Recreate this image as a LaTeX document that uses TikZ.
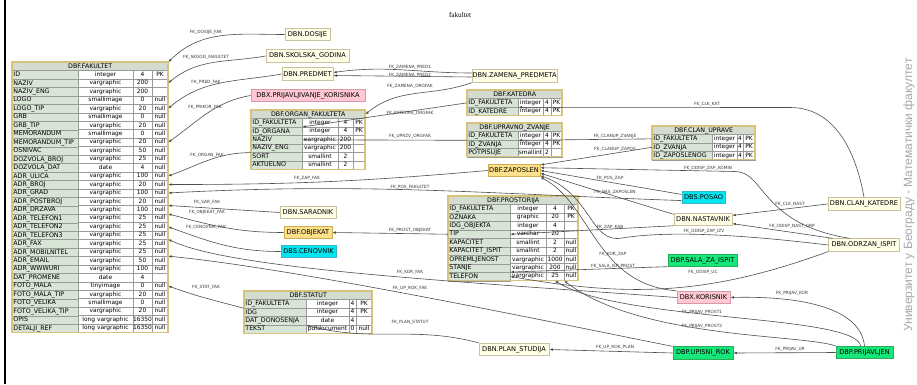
\documentclass[tikz,border=0pt]{standalone}
\usepackage{fontspec}
\setmainfont{DejaVu Sans}
\newfontfamily\titlefont{Liberation Serif}
\newfontfamily\cyrfont{Liberation Sans}
\usepackage{tikz}
\usetikzlibrary{calc,arrows.meta}
\definecolor{wire}{HTML}{4E4E4E}
\definecolor{fktext}{HTML}{3A3A3A}
\definecolor{cream}{HTML}{FFFFE8}
\definecolor{creamedge}{HTML}{C8C39E}
\definecolor{gold}{HTML}{FDE18A}
\definecolor{goldedge}{HTML}{CFAE52}
\definecolor{cyanbox}{HTML}{00E5F0}
\definecolor{cyanedge}{HTML}{33B8C4}
\definecolor{greenbox}{HTML}{14E87A}
\definecolor{greenedge}{HTML}{2DAA5A}
\definecolor{pinkbox}{HTML}{FFC8D2}
\definecolor{pinkedge}{HTML}{D49AA6}
\definecolor{headfill}{HTML}{D3DCCF}
\definecolor{namefill}{HTML}{D8E4D5}
\definecolor{gridline}{HTML}{9A9A9A}
\definecolor{tabframe}{HTML}{D6C47C}
\definecolor{wmark}{HTML}{A8A8A8}
\newcommand{\rowh}{8.45}
\tikzset{
  fk/.style={draw=wire, line width=0.6pt, -{Latex[length=3.4pt,width=2.6pt]}},
  fklab/.style={text=fktext, font=\fontsize{4.3}{5}\selectfont, inner sep=0.4pt},
  ent/.style={draw, line width=0.8pt, inner sep=0pt, minimum height=12.5pt, font=\fontsize{6.6}{7}\selectfont},
  dbn/.style={ent, draw=creamedge, fill=cream},
  dbf/.style={ent, draw=goldedge, fill=gold},
  dbs/.style={ent, draw=cyanedge, fill=cyanbox},
  dbp/.style={ent, draw=greenedge, fill=greenbox},
  dbx/.style={ent, draw=pinkedge, fill=pinkbox},
  thead/.style={draw=gridline, line width=0.4pt, fill=headfill, inner sep=0pt, minimum height=\rowh pt, font=\fontsize{6.3}{7}\selectfont},
  tname/.style={draw=gridline, line width=0.4pt, fill=namefill, inner xsep=1.2pt, inner ysep=0pt, minimum height=\rowh pt, align=left, text height=4.7pt, text depth=1.2pt, font=\fontsize{6.3}{7}\selectfont},
  tcell/.style={draw=gridline, line width=0.4pt, fill=white, inner sep=0pt, minimum height=\rowh pt, text height=4.5pt, text depth=1.2pt, font=\fontsize{5.9}{7}\selectfont},
  tframe/.style={draw=tabframe, line width=1.3pt},
  diagtitle/.style={font=\titlefont\fontsize{7.2}{8}\selectfont},
  wm/.style={text=wmark, font=\cyrfont\fontsize{12}{14}\selectfont},
}
\newcommand{\dbtable}[8]{%
  \pgfmathsetmacro{\tbA}{#3}%
  \pgfmathsetmacro{\tbB}{#3+#4}%
  \pgfmathsetmacro{\tbC}{#3+#4+#5}%
  \pgfmathsetmacro{\tbD}{#3+#4+#5+#6}%
  \pgfmathsetmacro{\tbW}{#3-2.4}%
  \node[thead, minimum width=\tbD pt, anchor=north west] (#1-0) at #2 {#7};
  \foreach \fa/\fb/\fc/\fd [count=\i] in {#8} {
    \coordinate (#1-\i-nw) at ($(#1-0.north west)+(0,{-\i*\rowh})$);
    \node[tname, text width=\tbW pt, anchor=north west] (#1-\i) at (#1-\i-nw) {\fa};
    \node[tcell, minimum width=#4pt] (#1-\i-b) at ($(#1-\i-nw)+({\tbA+#4/2},{-\rowh/2})$) {\fb};
    \node[tcell, minimum width=#5pt] (#1-\i-c) at ($(#1-\i-nw)+({\tbB+#5/2},{-\rowh/2})$) {\fc};
    \node[tcell, minimum width=#6pt] (#1-\i-d) at ($(#1-\i-nw)+({\tbC+#6/2},{-\rowh/2})$) {\fd};
    \xdef\dblast{\i}
  }
  \draw[tframe] (#1-0.north west) rectangle ($(#1-0.north west)+(\tbD,{-(\dblast+1)*\rowh})$);
}

\begin{document}
\begin{tikzpicture}[x=1pt,y=1pt]
  \fill[white] (0,0) rectangle (917,384);
  \useasboundingbox (0,0) rectangle (917,384);
  \draw[line width=1.8pt] (5,0) -- (5,384);
  \node[diagtitle] (title) at (460,369) {fakultet};
  \node[wm, rotate=90] (univ) at (909,189) {Универзитет у Београду - Математички факултет};

  \dbtable{fak}{(12,322)}{66}{55}{19}{16}{DBF.FAKULTET}{
    ID/integer/4/PK, NAZIV/vargraphic/200/~, NAZIV\_ENG/vargraphic/200/~,
    LOGO/smallimage/0/null, LOGO\_TIP/vargraphic/20/null, GRB/smallimage/0/null,
    GRB\_TIP/vargraphic/20/null, MEMORANDUM/smallimage/0/null, MEMORANDUM\_TIP/vargraphic/20/null,
    OSNIVAC/vargraphic/50/null, DOZVOLA\_BROJ/vargraphic/25/null, DOZVOLA\_DAT/date/4/null,
    ADR\_ULICA/vargraphic/100/null, ADR\_BROJ/vargraphic/20/null, ADR\_GRAD/vargraphic/100/null,
    ADR\_POSTBROJ/vargraphic/20/null, ADR\_DRZAVA/vargraphic/100/null, ADR\_TELEFON1/vargraphic/25/null,
    ADR\_TELEFON2/vargraphic/25/null, ADR\_TELEFON3/vargraphic/25/null, ADR\_FAX/vargraphic/25/null,
    ADR\_MOBILNITEL/vargraphic/25/null, ADR\_EMAIL/vargraphic/50/null, ADR\_WWWURI/vargraphic/100/null,
    DAT\_PROMENE/date/4/~, FOTO\_MALA/tinyimage/0/null, FOTO\_MALA\_TIP/vargraphic/20/null,
    FOTO\_VELIKA/smallimage/0/null, FOTO\_VELIKA\_TIP/vargraphic/20/null,
    OPIS/long vargraphic/16350/null, DETALJI\_REF/long vargraphic/16350/null}
  \dbtable{organ}{(251,274)}{51}{36}{15}{12}{DBF.ORGAN\_FAKULTETA}{
    ID\_FAKULTETA/integer/4/PK, ID\_ORGANA/integer/4/PK, NAZIV/vargraphic/200/~,
    NAZIV\_ENG/vargraphic/200/~, SORT/smallint/2/~, AKTUELNO/smallint/2/~}
  \dbtable{katedra}{(467,294)}{51}{25}{8}{11}{DBF.KATEDRA}{
    ID\_FAKULTETA/integer/4/PK, ID\_KATEDRE/integer/4/PK}
  \dbtable{upravno}{(467,261)}{51}{25}{8}{11}{DBF.UPRAVNO\_ZVANJE}{
    ID\_FAKULTETA/integer/4/PK, ID\_ZVANJA/integer/4/PK, POTPISUJE/smallint/2/~}
  \dbtable{clanup}{(652,258)}{60}{25}{6}{12}{DBF.CLAN\_UPRAVE}{
    ID\_FAKULTETA/integer/4/PK, ID\_ZVANJA/integer/4/PK, ID\_ZAPOSLENOG/integer/4/PK}
  \dbtable{prost}{(448,188)}{62}{36}{18}{14}{DBF.PROSTORIJA}{
    ID\_FAKULTETA/integer/4/PK, OZNAKA/graphic/20/PK, IDG\_OBJEKTA/integer/4/~,
    TIP/varchar/20/~, KAPACITET/smallint/2/null, KAPACITET\_ISPIT/smallint/2/null,
    OPREMLJENOST/vargraphic/1000/null, STANJE/vargraphic/200/null, TELEFON/vargraphic/25/null}
  \dbtable{statut}{(244,93)}{62}{43}{7}{16}{DBF.STATUT}{
    ID\_FAKULTETA/integer/4/PK, IDG/integer/4/PK, DAT\_DONOSENJA/date/4/~, TEKST/pdfdocument/0/null}

  \node[dbn, minimum width=45pt] (dosije) at (307.5,349.5) {DBN.DOSIJE};
  \node[dbn, minimum width=83pt] (skgod) at (307.5,328) {DBN.SKOLSKA\_GODINA};
  \node[dbn, minimum width=51pt] (predmet) at (307.5,310) {DBN.PREDMET};
  \node[dbx, minimum width=114pt] (prijkor) at (308,288.5) {DBX.PRIJAVLJIVANJE\_KORISNIKA};
  \node[dbn, minimum width=85pt] (zamena) at (514.5,308) {DBN.ZAMENA\_PREDMETA};
  \node[dbf, minimum width=52pt] (zaposlen) at (514,213.5) {DBF.ZAPOSLEN};
  \node[dbs, minimum width=43pt] (posao) at (703.5,186.5) {DBS.POSAO};
  \node[dbn, minimum width=58pt] (nastavnik) at (703,164.5) {DBN.NASTAVNIK};
  \node[dbp, minimum width=69pt] (salaisp) at (702.5,123.5) {DBP.SALA\_ZA\_ISPIT};
  \node[dbx, minimum width=53pt] (korisnik) at (703.5,86.5) {DBX.KORISNIK};
  \node[dbp, minimum width=60pt] (upisnirok) at (703,31) {DBP.UPISNI\_ROK};
  \node[dbn, minimum width=70pt] (planstudija) at (514,34.5) {DBN.PLAN\_STUDIJA};
  \node[dbp, minimum width=57pt] (prijavljen) at (864.5,31.5) {DBP.PRIJAVLJEN};
  \node[dbn, minimum width=72pt] (clankat) at (864,180) {DBN.CLAN\_KATEDRE};
  \node[dbn, minimum width=71pt] (odrzan) at (864,139) {DBN.ODRZAN\_ISPIT};
  \node[dbn, minimum width=56pt] (saradnik) at (308,171.5) {DBN.SARADNIK};
  \node[dbf, minimum width=48pt] (objekat) at (308,151.5) {DBF.OBJEKAT};
  \node[dbs, minimum width=55pt] (cenovnik) at (308.5,132.5) {DBS.CENOVNIK};

  \coordinate (kat-bend) at (790,276.5);
  \coordinate (adm-bend) at (735,212.5);
  \coordinate (izv-bend) at (622,146);

  \draw[fk] (dosije.west) to[out=180,in=45] (fak-0.north east);
  \draw[fk] (skgod.west) to[out=190,in=40] (fak-2-d.east);
  \draw[fk] (predmet.west) to[out=190,in=40] (fak-5-d.east);
  \draw[fk] (prijkor.west) to[out=190,in=35] (fak-9-d.east);
  \draw[fk] (organ-4.south west) to[out=180,in=20] (fak-13-d.east);
  \draw[fk] (zaposlen.west) to[out=185,in=0] (fak-14-d.east);
  \draw[fk] (posao.188) to[out=178,in=3] (fak-15-d.east);
  \draw[fk] (saradnik.west) -- (fak-17-d.north east);
  \draw[fk] (objekat.west) to[out=180,in=-15] (fak-18-d.north east);
  \draw[fk] (cenovnik.west) to[out=180,in=-20] (fak-19-d.east);
  \draw[fk] (korisnik.west) .. controls (450,103) and (230,115) .. (fak-21-d.north east);
  \draw[fk] (upisnirok.north west) .. controls (560,60) and (300,115) .. (fak-23-d.north east);
  \draw[fk] (statut-1.south west) to[out=165,in=-20] (fak-26-d.east);
  \draw[fk] (planstudija.north west) to[out=165,in=-15] (statut-3.south east);
  \draw[fk] ($(zamena.west)+(0,3)$) to[out=180,in=8] ($(predmet.east)+(0,1.5)$);
  \draw[fk] ($(zamena.west)+(0,-1)$) -- ($(predmet.east)+(0,-1.5)$);
  \draw[fk] (zamena.south west) to[out=200,in=40] (organ-0.east);
  \draw[fk] (katedra-1.west) -- (organ-2.north east);
  \draw[fk] (upravno-1.south west) -- (organ-3.east);
  \draw[fk] (prost-4.west) -- (objekat.east);
  \draw[fk] (clankat.north) to[out=100,in=0] (kat-bend) -- (katedra-1.south east);
  \draw[fk] (clanup-1.west) -- (upravno-1.south east);
  \draw[fk] (clanup-2.west) -- (zaposlen.12);
  \draw[fk] (odrzan.155) .. controls (760,160) and (765,212.5) .. (adm-bend) -- (zaposlen.6);
  \draw[fk] (posao.172) -- (zaposlen.east);
  \draw[fk] (nastavnik.170) -- (zaposlen.-6);
  \draw[fk] (nastavnik.192) -- (prost-4.east);
  \draw[fk] (clankat.west) -- (nastavnik.8);
  \draw[fk] (odrzan.168) -- (nastavnik.-8);
  \draw[fk] (odrzan.west) .. controls (720,152) and (660,152) .. (izv-bend) .. controls (590,140) and (592,190) .. (zaposlen.-11);
  \draw[fk] (korisnik.north west) .. controls (595,100) and (592,180) .. (zaposlen.south east);
  \draw[fk] (salaisp.190) -- (prost-9.north east);
  \draw[fk] (odrzan.south west) to[out=200,in=-10] (prost-9.east);
  \draw[fk] (prijavljen.120) .. controls (855,70) and (620,62) .. (prost-9-c.south);
  \draw[fk] (prijavljen.north west) .. controls (800,50) and (640,45) .. (prost-9-c.south east);
  \draw[fk] (prijavljen.north) .. controls (860,80) and (790,88) .. (korisnik.east);
  \draw[fk] (prijavljen.west) -- (upisnirok.east);
  \draw[fk] (upisnirok.west) -- (planstudija.east);

  \node[fklab] (l-dosije) at (206,352) {FK\_DOSIJE\_FAK};
  \node[fklab] (l-skgod) at (206,327) {FK\_SKGOD\_FAKULTET};
  \node[fklab] (l-pred) at (206,302) {FK\_PRED\_FAK};
  \node[fklab] (l-prikor) at (205,277) {FK\_PRIKOR\_FAK};
  \node[fklab] (l-organ) at (207,229) {FK\_ORGAN\_FAK};
  \node[fklab] (l-zapfak) at (307,206) {FK\_ZAP\_FAK};
  \node[fklab] (l-posfak) at (410,197) {FK\_POS\_FAKULTET};
  \node[fklab] (l-sar) at (207,181.5) {FK\_SAR\_FAK};
  \node[fklab] (l-obj) at (207,172) {FK\_OBJEKAT\_FAK};
  \node[fklab] (l-cen) at (206,157) {FK\_CENOVNIK\_FAK};
  \node[fklab] (l-korfak) at (410,112) {FK\_KOR\_FAK};
  \node[fklab] (l-uprokfak) at (410,96) {FK\_UP\_ROK\_FAK};
  \node[fklab] (l-stat) at (206,97) {FK\_STAT\_FAK};
  \node[fklab] (l-planstat) at (410,62) {FK\_PLAN\_STATUT};
  \node[fklab] (l-zp1) at (410,317) {FK\_ZAMENA\_PRED1};
  \node[fklab] (l-zp2) at (410,309) {FK\_ZAMENA\_PRED2};
  \node[fklab] (l-zorg) at (410,298) {FK\_ZAMENA\_ORGFAK};
  \node[fklab] (l-katorg) at (410,271) {FK\_KATEDRA\_ORGFAK};
  \node[fklab] (l-uprzv) at (410,248) {FK\_UPRZV\_ORGFAK};
  \node[fklab] (l-prostobj) at (410,154) {FK\_PROST\_OBJEKAT};
  \node[fklab] (l-clkkat) at (707,280) {FK\_CLK\_KAT};
  \node[fklab] (l-cuzv) at (615,247.5) {FK\_CLANUP\_ZVANJE};
  \node[fklab] (l-cuzap) at (615,235) {FK\_CLANUP\_ZAPOS};
  \node[fklab] (l-admin) at (708,216) {FK\_ODISP\_ZAP\_ADMIN};
  \node[fklab] (l-poszap) at (610,206) {FK\_POS\_ZAP};
  \node[fklab] (l-naszap) at (615,192) {FK\_NAS\_ZAPOSLEN};
  \node[fklab] (l-zapkab) at (610,157) {FK\_ZAP\_KAB};
  \node[fklab] (l-izv) at (704,153) {FK\_ODISP\_ZAP\_IZV};
  \node[fklab] (l-clknast) at (790,180) {FK\_CLK\_NAST};
  \node[fklab] (l-nastgrp) at (792,158) {FK\_ODISP\_NAST\_GRP};
  \node[fklab] (l-korzap) at (613,130) {FK\_KOR\_ZAP};
  \node[fklab] (l-salaprost) at (613,117.5) {FK\_SALA\_ISP\_PROST};
  \node[fklab] (l-odispuc) at (703,112) {FK\_ODISP\_UC};
  \node[fklab] (l-prost1) at (702,72) {FK\_PRIJAV\_PROST1};
  \node[fklab] (l-prost2) at (702,58) {FK\_PRIJAV\_PROST2};
  \node[fklab] (l-prijkor) at (792,91) {FK\_PRIJAV\_KOR};
  \node[fklab] (l-prijur) at (790,35) {FK\_PRIJAV\_UR};
  \node[fklab] (l-uprokplan) at (615,37) {FK\_UP\_ROK\_PLAN};
\end{tikzpicture}
\end{document}
